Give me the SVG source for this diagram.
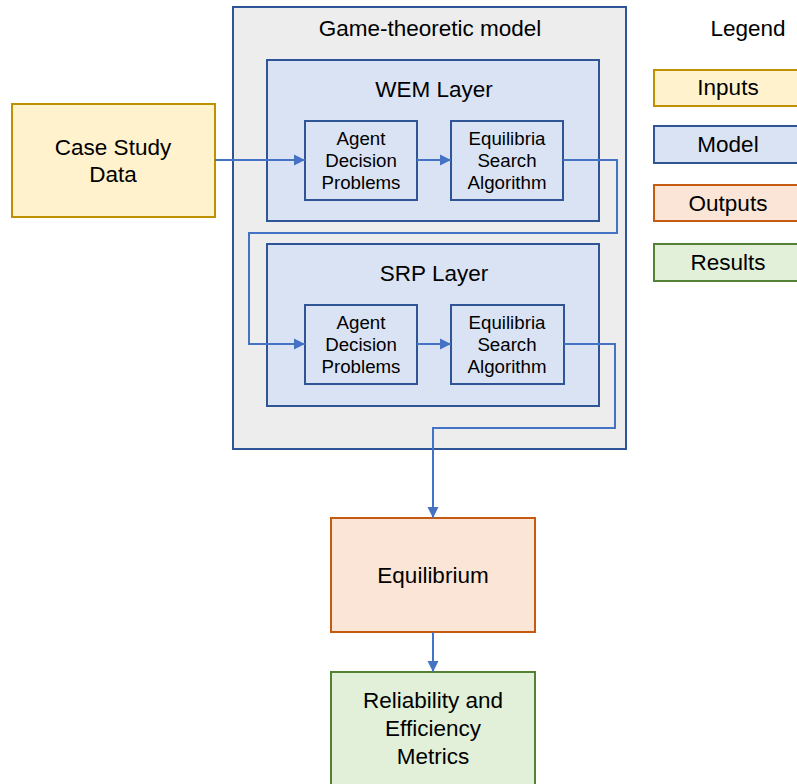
<svg xmlns="http://www.w3.org/2000/svg" width="797" height="784" viewBox="0 0 797 784">
<defs>
<style>
text{font-family:"Liberation Sans",Arial,sans-serif;fill:#000;text-anchor:middle}
.big{font-size:22.5px}
.sm{font-size:18.7px}
.model{fill:#DAE3F3;stroke:#2F5597;stroke-width:2}
.inp{fill:#FFF2CC;stroke:#BF9000;stroke-width:2}
.out{fill:#FBE5D6;stroke:#C55A11;stroke-width:2}
.res{fill:#E2F0D9;stroke:#548235;stroke-width:2}
.outer{fill:#EDEDED;stroke:#2F5597;stroke-width:2}
.conn{fill:none;stroke:#4472C4;stroke-width:2}
</style>
<marker id="ah" viewBox="0 0 10 10" refX="10" refY="5" markerWidth="5.5" markerHeight="6" markerUnits="strokeWidth" orient="auto">
<path d="M0,0 L10,5 L0,10 Z" fill="#4472C4"/>
</marker>
</defs>
<rect width="797" height="784" fill="#fff"/>
<g id="gtm">
<rect class="outer" x="233" y="7" width="393" height="442"/>
<text class="big" x="430" y="36">Game-theoretic model</text>
</g>
<g id="wem">
<rect class="model" x="267" y="60" width="332" height="161"/>
<text class="big" x="434" y="97">WEM Layer</text>
</g>
<g id="wem-agent">
<rect class="model" x="305" y="121" width="112" height="79"/>
<text class="sm" x="361" y="145">Agent</text>
<text class="sm" x="361" y="167">Decision</text>
<text class="sm" x="361" y="189">Problems</text>
</g>
<g id="wem-eq">
<rect class="model" x="451" y="121" width="112" height="79"/>
<text class="sm" x="507" y="145">Equilibria</text>
<text class="sm" x="507" y="167">Search</text>
<text class="sm" x="507" y="189">Algorithm</text>
</g>
<g id="srp">
<rect class="model" x="267" y="244" width="332" height="162"/>
<text class="big" x="434" y="281">SRP Layer</text>
</g>
<g id="srp-agent">
<rect class="model" x="305" y="305" width="112" height="79"/>
<text class="sm" x="361" y="329">Agent</text>
<text class="sm" x="361" y="351">Decision</text>
<text class="sm" x="361" y="373">Problems</text>
</g>
<g id="srp-eq">
<rect class="model" x="451" y="305" width="113" height="79"/>
<text class="sm" x="507" y="329">Equilibria</text>
<text class="sm" x="507" y="351">Search</text>
<text class="sm" x="507" y="373">Algorithm</text>
</g>
<g id="case">
<rect class="inp" x="12" y="104" width="203" height="113"/>
<text class="big" x="113" y="155">Case Study</text>
<text class="big" x="113" y="182">Data</text>
</g>
<g id="equilibrium">
<rect class="out" x="331" y="518" width="204" height="114"/>
<text class="big" x="433" y="583">Equilibrium</text>
</g>
<g id="metrics">
<rect class="res" x="331" y="672" width="204" height="130"/>
<text class="big" x="433" y="708">Reliability and</text>
<text class="big" x="433" y="736">Efficiency</text>
<text class="big" x="433" y="764">Metrics</text>
</g>
<g id="legend">
<text class="big" x="748" y="36">Legend</text>
<rect class="inp" x="654" y="70" width="150" height="36"/>
<text class="big" x="728" y="95">Inputs</text>
<rect class="model" x="654" y="126" width="150" height="37"/>
<text class="big" x="728" y="152">Model</text>
<rect class="out" x="654" y="185" width="150" height="36"/>
<text class="big" x="728" y="211">Outputs</text>
<rect class="res" x="654" y="244" width="150" height="37"/>
<text class="big" x="728" y="270">Results</text>
</g>
<g id="connectors">
<path class="conn" d="M215,160 H305" marker-end="url(#ah)"/>
<path class="conn" d="M417,160 H451" marker-end="url(#ah)"/>
<path class="conn" d="M563,160 H617 V233 H249 V344 H305" marker-end="url(#ah)"/>
<path class="conn" d="M417,344 H451" marker-end="url(#ah)"/>
<path class="conn" d="M564,344 H615 V428 H433 V518" marker-end="url(#ah)"/>
<path class="conn" d="M433,632 V672" marker-end="url(#ah)"/>
</g>
</svg>
